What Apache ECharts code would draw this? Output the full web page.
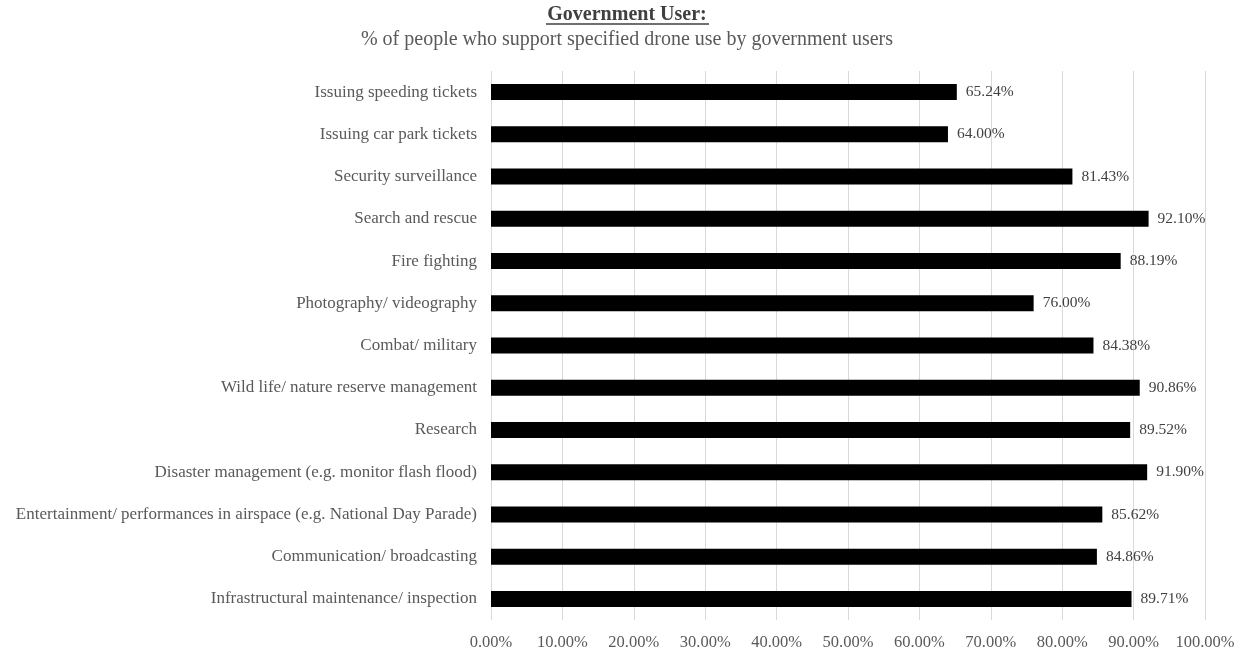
<!DOCTYPE html>
<html><head><meta charset="utf-8">
<script src="https://cdn.jsdelivr.net/npm/echarts@6/dist/echarts.min.js"></script>
<style>html,body{margin:0;padding:0;background:#fff}#c{width:1247px;height:651px}</style>
</head><body><div id="c"></div>
<script>
const categories = [
  "Issuing speeding tickets",
  "Issuing car park tickets",
  "Security surveillance",
  "Search and rescue",
  "Fire fighting",
  "Photography/ videography",
  "Combat/ military",
  "Wild life/ nature reserve management",
  "Research",
  "Disaster management (e.g. monitor flash flood)",
  "Entertainment/ performances in airspace (e.g. National Day Parade)",
  "Communication/ broadcasting",
  "Infrastructural maintenance/ inspection"
];
const supportValues = [65.24, 64.00, 81.43, 92.10, 88.19, 76.00, 84.38, 90.86, 89.52, 91.90, 85.62, 84.86, 89.71];
const titleText = "Government User:";
const subtitleText = "% of people who support specified drone use by government users";

const font = "'Liberation Serif', 'Times New Roman', serif";
const chart = echarts.init(document.getElementById('c'));
chart.setOption({
  animation: false,
  graphic: [
    {type: 'text', x: 627, y: 15, style: {text: titleText, fontFamily: font, fontSize: 20, fontWeight: 'bold', fill: '#404040', align: 'center', verticalAlign: 'middle'}},
    {type: 'line', shape: {x1: 546, y1: 24, x2: 709, y2: 24}, style: {stroke: '#404040', lineWidth: 1.3}},
    {type: 'text', x: 627, y: 40, style: {text: subtitleText, fontFamily: font, fontSize: 20, fill: '#595959', align: 'center', verticalAlign: 'middle'}}
  ],
  grid: {left: 491, right: 42, top: 71, bottom: 30, containLabel: false},
  xAxis: {
    type: 'value', min: 0, max: 100, interval: 10,
    axisLabel: {formatter: v => v.toFixed(2) + '%', fontFamily: font, fontSize: 16.5, color: '#595959', margin: 14},
    splitLine: {lineStyle: {color: '#d9d9d9', width: 1}},
    axisLine: {show: false}, axisTick: {show: false}
  },
  yAxis: {
    type: 'category', data: categories, inverse: true,
    axisLabel: {fontFamily: font, fontSize: 17, color: '#595959', margin: 14},
    axisLine: {show: false}, axisTick: {show: false}
  },
  series: [{
    type: 'bar', data: supportValues, barWidth: 16,
    itemStyle: {color: '#000000'},
    label: {show: true, position: 'right', distance: 9, formatter: p => p.value.toFixed(2) + '%',
      fontFamily: font, fontSize: 15.5, color: '#404040'}
  }]
});
</script></body></html>
